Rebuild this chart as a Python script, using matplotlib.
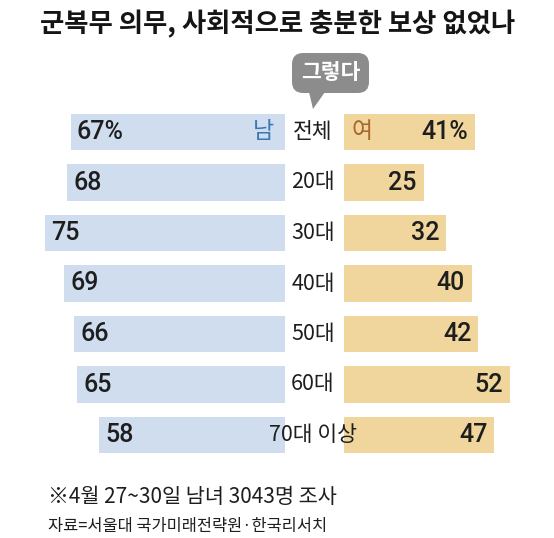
import matplotlib
matplotlib.use("Agg")
import matplotlib.pyplot as plt
from matplotlib import font_manager
from matplotlib.patches import FancyBboxPatch, Polygon

KR = "Noto Sans CJK KR"
names = {f.name for f in font_manager.fontManager.ttflist}
NUM = "Liberation Sans Narrow" if "Liberation Sans Narrow" in names else "Roboto"
plt.rcParams["font.family"] = [KR, "DejaVu Sans"]

# data
groups = ["전체", "20대", "30대", "40대", "50대", "60대", "70대 이상"]
male = [67, 68, 75, 69, 66, 65, 58]
female = [41, 25, 32, 40, 42, 52, 47]
title = "군복무 의무, 사회적으로 충분한 보상 없었나"
note = "※4월 27~30일 남녀 3043명 조사"
source = "자료=서울대 국가미래전략원·한국리서치"

W, H = 554, 538
c_male = "#cfddef"
c_female = "#f0d59c"
c_text = "#1e1e1e"

fig = plt.figure(figsize=(W / 100, H / 100), dpi=100)
fig.patch.set_facecolor("white")

px = 3.2            # pixels per percent point
male_right = 285
female_left = 344
row0, step = 132, 50.5
ylim = ((H - row0) / step, -row0 / step)

ax_m = fig.add_axes([0, 0, male_right / W, 1])
ax_f = fig.add_axes([female_left / W, 0, (W - female_left) / W, 1])
ax_m.set_xlim(male_right / px, 0)
ax_f.set_xlim(0, (W - female_left) / px)
for ax in (ax_m, ax_f):
    ax.set_ylim(*ylim)
    ax.axis("off")

ypos = list(range(len(groups)))
ax_m.barh(ypos, male, height=0.73, color=c_male)
ax_f.barh(ypos, female, height=0.73, color=c_female)

for i, (m, f) in enumerate(zip(male, female)):
    ml = f"{m}%" if i == 0 else str(m)
    fl = f"{f}%" if i == 0 else str(f)
    ax_m.text(m - 2.0, i, ml, ha="left", va="center", fontsize=18,
              family=NUM, weight="medium", color=c_text)
    ax_f.text(f - 2.2, i, fl, ha="right", va="center", fontsize=18,
              family=NUM, weight="medium", color=c_text)
    ax_f.text(-(female_left - 313) / px, i, groups[i], ha="center",
              va="center", fontsize=15.5, color=c_text, clip_on=False)

ax_m.text(3.5, 0, "남", ha="right", va="center", fontsize=16.5,
          weight="medium", color="#3b78b3")
ax_f.text(2.2, 0, "여", ha="left", va="center", fontsize=16.5,
          weight="medium", color="#a6672c")

# title
fig.text(278 / W, 1 - 24 / H, title, ha="center", va="center",
         fontsize=19, weight="bold", color="#151515")

# speech bubble
bx0, bx1, by0, by1 = 292, 369, 53, 93
bubble = FancyBboxPatch((bx0 / W, 1 - by1 / H), (bx1 - bx0) / W, (by1 - by0) / H,
                        boxstyle="round,pad=0,rounding_size=0.02",
                        transform=fig.transFigure, facecolor="#8c8c8c",
                        edgecolor="none", mutation_aspect=W / H)
fig.patches.append(bubble)
tail = Polygon([(309 / W, 1 - 92 / H), (325 / W, 1 - 92 / H), (313 / W, 1 - 109 / H)],
               closed=True, transform=fig.transFigure, facecolor="#8c8c8c",
               edgecolor="none")
fig.patches.append(tail)
fig.text(330.5 / W, 1 - 73 / H, "그렇다", ha="center", va="center",
         fontsize=15.5, weight="bold", color="white")

# footnotes
fig.text(48 / W, 1 - 497 / H, note, ha="left", va="center",
         fontsize=15, color=c_text)
fig.text(48 / W, 1 - 527 / H, source, ha="left", va="center",
         fontsize=11.8, color=c_text)

fig.savefig("out.png", dpi=100, facecolor="white")
